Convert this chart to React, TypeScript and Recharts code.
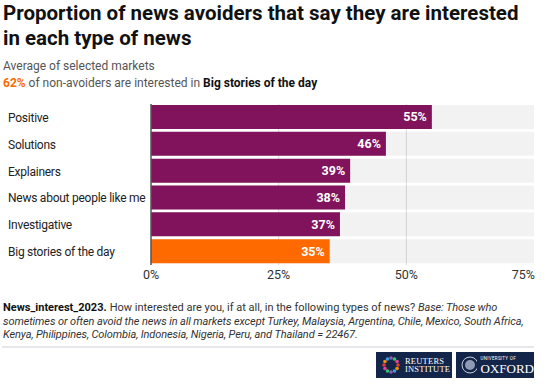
import React from "react";
import { BarChart, Bar, XAxis, YAxis, CartesianGrid, Cell, LabelList } from "recharts";

// Reuters Institute Digital News Report 2023 — interest among news avoiders
const categories = ["Positive", "Solutions", "Explainers", "News about people like me", "Investigative", "Big stories of the day"];
const values = [55, 46, 39, 38, 37, 35];
const highlight = "Big stories of the day";
const xTicks = [0, 25, 50, 75];

const PURPLE = "#80135b";
const ORANGE = "#ff6a00";
const FONT = "Roboto, 'Noto Sans', sans-serif";

const data = categories.map((name, i) => ({ name, value: values[i] }));

const CategoryTick = (props: any) => {
  const { y, payload } = props;
  return (
    <text x={8} y={y} dy={4.5} textAnchor="start" fontSize={12} letterSpacing={-0.25} fill="#222" fontFamily={FONT}>
      {payload.value}
    </text>
  );
};

const PctTick = (props: any) => {
  const { x, y, payload, index } = props;
  const last = index === xTicks.length - 1;
  return (
    <text x={last ? x + 1 : x} y={y} dy={6} textAnchor={last ? "end" : "middle"} fontSize={12.5} fill="#333" fontFamily={FONT}>
      {payload.value}%
    </text>
  );
};

function Logos() {
  const box: React.CSSProperties = {
    position: "absolute",
    top: 352,
    height: 26,
    background: "#14254a",
    color: "#fff",
    fontFamily: "'Liberation Serif', 'DejaVu Serif', serif",
    display: "flex",
    alignItems: "center",
  };
  return (
    <>
      <div style={{ ...box, left: 376, width: 76 }}>
        <svg width={20} height={20} style={{ marginLeft: 5 }}>
          {[0, 30, 60, 90, 120, 150, 180, 210, 240, 270, 300, 330].map((a, i) => (
            <circle
              key={a}
              cx={10 + 7 * Math.cos((a * Math.PI) / 180)}
              cy={10 + 7 * Math.sin((a * Math.PI) / 180)}
              r={1.8}
              fill={["#e63c2f", "#f39200", "#3ca0e0", "#9b59b6", "#2ecc71", "#e84393"][i % 6]}
            />
          ))}
        </svg>
        <div style={{ fontSize: 8.5, lineHeight: "8.5px", marginLeft: 4, letterSpacing: 0.2 }}>
          REUTERS
          <br />
          INSTITUTE
        </div>
      </div>
      <div style={{ ...box, left: 456, width: 78 }}>
        <svg width={18} height={20} style={{ marginLeft: 5 }}>
          <circle cx={9} cy={10} r={8} fill="none" stroke="#c9cfdc" strokeWidth={1} />
          <circle cx={9} cy={10} r={5} fill="#8f9ab3" />
        </svg>
        <div style={{ marginLeft: 4 }}>
          <div style={{ fontSize: 4.5, lineHeight: "6px", fontFamily: FONT, letterSpacing: 0.3 }}>UNIVERSITY OF</div>
          <div style={{ fontSize: 13, lineHeight: "13px" }}>OXFORD</div>
        </div>
      </div>
    </>
  );
}

export default function App() {
  const italic: React.CSSProperties = { fontStyle: "italic", letterSpacing: -0.1 };
  return (
    <div style={{ position: "absolute", left: 0, top: 0, width: 556, height: 385, background: "#fff", fontFamily: FONT, color: "#222" }}>
      <div style={{ position: "absolute", left: 3, top: 1, width: 525, fontSize: 20.5, fontWeight: 700, lineHeight: "25px", color: "#111" }}>
        Proportion of news avoiders that say they are interested in each type of news
      </div>
      <div style={{ position: "absolute", left: 3, top: 58, fontSize: 12, color: "#555", lineHeight: "17px" }}>
        Average of selected markets
        <br />
        <span style={{ color: ORANGE, fontWeight: 700 }}>62%</span> of non-avoiders are interested in{" "}
        <span style={{ color: "#111", fontWeight: 700 }}>Big stories of the day</span>
      </div>

      <div style={{ position: "absolute", left: 0, top: 96 }}>
        <BarChart width={556} height={189} data={data} layout="vertical" margin={{ top: 8, right: 22, bottom: 0, left: 0 }}>
          <CartesianGrid horizontal={false} vertical stroke="#dcdcdc" strokeWidth={1} verticalValues={[25, 50]} />
          <XAxis type="number" domain={[0, 75]} ticks={xTicks} height={20} axisLine={false} tickLine={false} tick={<PctTick />} interval={0} />
          <YAxis type="category" dataKey="name" width={151} interval={0} axisLine={{ stroke: "#555", strokeWidth: 1.5 }} tickLine={false} tick={<CategoryTick />} />
          <Bar dataKey="value" barSize={24} background={{ fill: "#000", fillOpacity: 0.05 }} isAnimationActive={false}>
            {data.map((d) => (
              <Cell key={d.name} fill={d.name === highlight ? ORANGE : PURPLE} />
            ))}
            <LabelList
              dataKey="value"
              position="insideRight"
              offset={5}
              formatter={(v: any) => `${v}%`}
              style={{ fill: "#fff", fontWeight: 700, fontSize: 12.5, fontFamily: FONT }}
            />
          </Bar>
        </BarChart>
      </div>

      <div style={{ position: "absolute", left: 3, top: 301, width: 545, fontSize: 11, lineHeight: "13.5px", color: "#333", whiteSpace: "nowrap" }}>
        <div>
          <b style={{ color: "#111", marginRight: 3 }}>News_interest_2023.</b>
          <span>How interested are you, if at all, in the following types of news? </span>
          <span style={italic}>Base: Those who</span>
        </div>
        <div style={italic}>
          sometimes or often avoid the news in all markets except Turkey, Malaysia, Argentina, Chile, Mexico, South Africa,
        </div>
        <div style={italic}>Kenya, Philippines, Colombia, Indonesia, Nigeria, Peru, and Thailand = 22467.</div>
      </div>
      <div style={{ position: "absolute", left: 2, top: 346, width: 532, height: 2, background: "#e6e6ec" }} />
      <Logos />
    </div>
  );
}
